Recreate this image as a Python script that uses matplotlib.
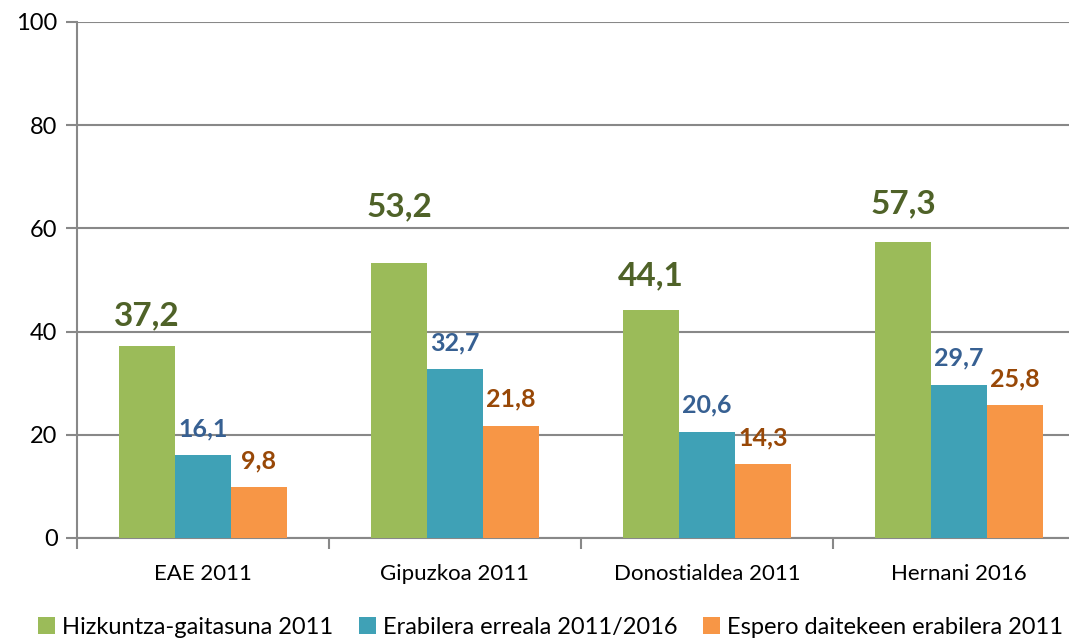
import numpy as np
import matplotlib
matplotlib.use("Agg")
import matplotlib.pyplot as plt

plt.rcParams['font.family'] = ['Lato', 'DejaVu Sans']

# data
categories = ['EAE 2011', 'Gipuzkoa 2011', 'Donostialdea 2011', 'Hernani 2016']
series_names = ['Hizkuntza-gaitasuna 2011', 'Erabilera erreala 2011/2016',
                'Espero daitekeen erabilera 2011']
gaitasuna = [37.2, 53.2, 44.1, 57.3]
erreala = [16.1, 32.7, 20.6, 29.7]
espero = [9.8, 21.8, 14.3, 25.8]

bar_colors = ['#9bbb59', '#3fa1b6', '#f79646']
label_colors = ['#4f6228', '#376092', '#984807']
label_sizes = [24, 18, 18]
# vertical label offsets in points
green_offsets = [22, 41, 25, 28]

fig = plt.figure(figsize=(10.69, 6.43), dpi=100)
ax = fig.add_axes([77 / 1069, 1 - 538 / 643, 992 / 1069, (538 - 22) / 643])

x = np.arange(len(categories))
w = 0.222
all_series = [gaitasuna, erreala, espero]
for i, vals in enumerate(all_series):
    pos = x + (i - 1) * w
    ax.bar(pos, vals, width=w, color=bar_colors[i], label=series_names[i], zorder=3)
    for j, v in enumerate(vals):
        off = green_offsets[j] if i == 0 else 19
        ax.annotate(('%.1f' % v).replace('.', ','), (pos[j], v),
                    xytext=(0, off), textcoords='offset points',
                    ha='center', va='center', fontsize=label_sizes[i],
                    fontweight='bold', color=label_colors[i], zorder=4)

ax.set_ylim(0, 100)
ax.set_yticks(range(0, 101, 20))
ax.set_xlim(-0.5, -0.5 + 992 / 252)
ax.set_xticks(x)
ax.set_xticklabels(categories, fontsize=16)
ax.set_xticks(np.arange(-0.5, 3.0, 1.0), minor=True)
ax.tick_params(axis='x', which='major', length=0, pad=19)
ax.tick_params(axis='x', which='minor', length=8, width=1.5, color='#888888', direction='out')
ax.tick_params(axis='y', labelsize=17, length=8, width=1.5, color='#888888', pad=6)

ax.yaxis.grid(True, color='#888888', linewidth=1.5, zorder=0)
for s in ['top', 'right']:
    ax.spines[s].set_visible(False)
for s in ['left', 'bottom']:
    ax.spines[s].set_color('#888888')
    ax.spines[s].set_linewidth(1.5)

fig.legend(loc='lower center', bbox_to_anchor=(0.515, -0.025), ncol=3, frameon=False,
           fontsize=17, handlelength=0.7, handleheight=0.7, handletextpad=0.3,
           columnspacing=1.1)

fig.savefig('out.png', dpi=100)
